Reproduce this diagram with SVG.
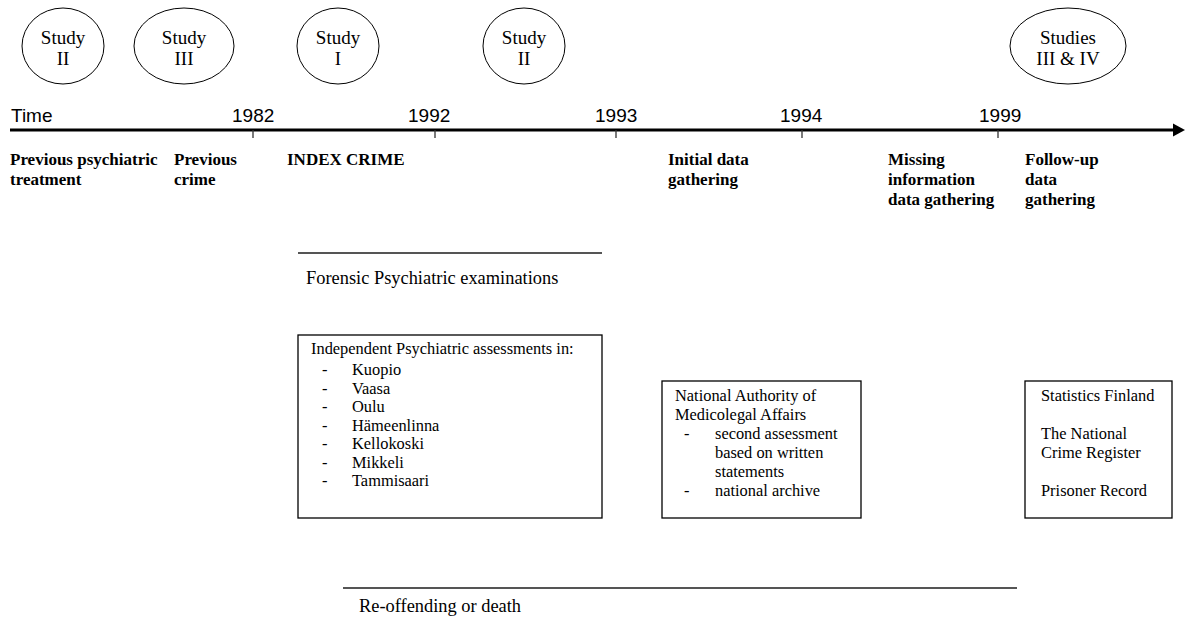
<svg xmlns="http://www.w3.org/2000/svg" width="1185" height="619" viewBox="0 0 1185 619">
<style>
.bg{fill:#fff}
.ell{fill:#fff;stroke:#000;stroke-width:1}
.et{font-family:"Liberation Serif","Times New Roman",serif;font-size:19px;fill:#000;text-anchor:middle}
.yr{font-family:"Liberation Sans",Arial,sans-serif;font-size:19px;fill:#000}
.bl{font-family:"Liberation Serif","Times New Roman",serif;font-size:17px;font-weight:bold;fill:#000}
.lb{font-family:"Liberation Serif","Times New Roman",serif;font-size:18.4px;fill:#000}
.bt{font-family:"Liberation Serif","Times New Roman",serif;font-size:16.4px;fill:#000}
.box{fill:#fff;stroke:#000;stroke-width:1.3}
.axis{stroke:#000;stroke-width:3;fill:none}
.tick{stroke:#333;stroke-width:1.3}
.span{stroke:#555;stroke-width:2}
</style>
<rect class="bg" x="0" y="0" width="1185" height="619"/>

<g id="study-ii-a"><ellipse class="ell" cx="63" cy="46" rx="41" ry="38"/><text class="et" x="63" y="44">Study</text><text class="et" x="63" y="65">II</text></g>
<g id="study-iii"><ellipse class="ell" cx="184" cy="46" rx="50" ry="38"/><text class="et" x="184" y="44">Study</text><text class="et" x="184" y="65">III</text></g>
<g id="study-i"><ellipse class="ell" cx="338" cy="46" rx="41" ry="38"/><text class="et" x="338" y="44">Study</text><text class="et" x="338" y="65">I</text></g>
<g id="study-ii-b"><ellipse class="ell" cx="524" cy="46" rx="41" ry="38"/><text class="et" x="524" y="44">Study</text><text class="et" x="524" y="65">II</text></g>
<g id="studies-iii-iv"><ellipse class="ell" cx="1068" cy="46" rx="58" ry="38"/><text class="et" x="1068" y="44">Studies</text><text class="et" x="1068" y="65">III &amp; IV</text></g>

<g id="connectors">
<line class="axis" x1="10" y1="130" x2="1176" y2="130"/>
<polygon points="1173,123.5 1185,130 1173,136.5" fill="#000"/>
<line class="tick" x1="253" y1="130" x2="253" y2="138"/>
<line class="tick" x1="435" y1="130" x2="435" y2="138"/>
<line class="tick" x1="616" y1="130" x2="616" y2="138"/>
<line class="tick" x1="802" y1="130" x2="802" y2="138"/>
<line class="tick" x1="998" y1="130" x2="998" y2="138"/>
<line class="span" x1="298" y1="253" x2="602" y2="253"/>
<line class="span" x1="343" y1="588" x2="1017" y2="588"/>
</g>

<g id="axis-labels">
<text class="yr" x="11" y="122">Time</text>
<text class="yr" x="232" y="122">1982</text>
<text class="yr" x="408" y="122">1992</text>
<text class="yr" x="595" y="122">1993</text>
<text class="yr" x="780" y="122">1994</text>
<text class="yr" x="979" y="122">1999</text>
</g>

<g id="phase-labels">
<text class="bl" x="10" y="165">Previous psychiatric</text>
<text class="bl" x="10" y="185">treatment</text>
<text class="bl" x="174" y="165">Previous</text>
<text class="bl" x="174" y="185">crime</text>
<text class="bl" x="287" y="165">INDEX CRIME</text>
<text class="bl" x="668" y="165">Initial data</text>
<text class="bl" x="668" y="185">gathering</text>
<text class="bl" x="888" y="165">Missing</text>
<text class="bl" x="888" y="185">information</text>
<text class="bl" x="888" y="205">data gathering</text>
<text class="bl" x="1025" y="165">Follow-up</text>
<text class="bl" x="1025" y="185">data</text>
<text class="bl" x="1025" y="205">gathering</text>
</g>

<g id="forensic"><text class="lb" x="306" y="284">Forensic Psychiatric examinations</text></g>
<g id="reoffending"><text class="lb" x="359" y="612">Re-offending or death</text></g>

<g id="box-independent">
<rect class="box" x="298" y="335" width="304" height="183"/>
<text class="bt" x="311" y="354">Independent Psychiatric assessments in:</text>
<text class="bt" x="322" y="375">-</text><text class="bt" x="352" y="375">Kuopio</text>
<text class="bt" x="322" y="393.5">-</text><text class="bt" x="352" y="393.5">Vaasa</text>
<text class="bt" x="322" y="412">-</text><text class="bt" x="352" y="412">Oulu</text>
<text class="bt" x="322" y="430.5">-</text><text class="bt" x="352" y="430.5">Hämeenlinna</text>
<text class="bt" x="322" y="449">-</text><text class="bt" x="352" y="449">Kellokoski</text>
<text class="bt" x="322" y="467.5">-</text><text class="bt" x="352" y="467.5">Mikkeli</text>
<text class="bt" x="322" y="486">-</text><text class="bt" x="352" y="486">Tammisaari</text>
</g>

<g id="box-national">
<rect class="box" x="662" y="381" width="199" height="137"/>
<text class="bt" x="675" y="401">National Authority of</text>
<text class="bt" x="675" y="420">Medicolegal Affairs</text>
<text class="bt" x="684" y="439">-</text><text class="bt" x="715" y="439">second assessment</text>
<text class="bt" x="715" y="458">based on written</text>
<text class="bt" x="715" y="477">statements</text>
<text class="bt" x="684" y="496">-</text><text class="bt" x="715" y="496">national archive</text>
</g>

<g id="box-registers">
<rect class="box" x="1025" y="381" width="147" height="137"/>
<text class="bt" x="1041" y="401">Statistics Finland</text>
<text class="bt" x="1041" y="439">The National</text>
<text class="bt" x="1041" y="458">Crime Register</text>
<text class="bt" x="1041" y="496">Prisoner Record</text>
</g>
</svg>
